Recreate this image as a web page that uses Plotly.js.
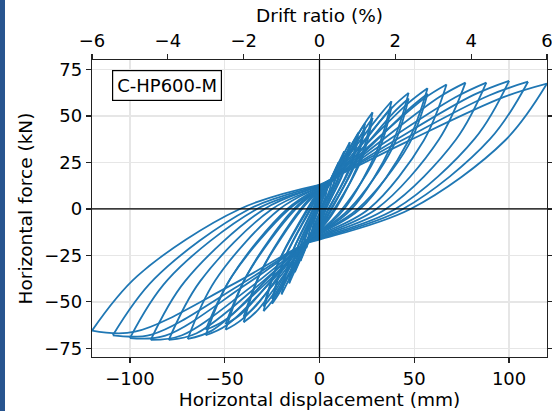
<!DOCTYPE html>
<html>
<head>
<meta charset="utf-8">
<script src="https://cdn.plot.ly/plotly-3.0.1.min.js"></script>
<style>
  html, body { margin: 0; padding: 0; background: #fff; }
  #wrap { position: relative; width: 552px; height: 411px; }
  #strip { position: absolute; left: 0; top: 0; width: 5px; height: 411px; background: #28558f; z-index: 5; }
  #chart { position: absolute; left: 0; top: 0; width: 552px; height: 411px; }
</style>
</head>
<body>
<div id="wrap"><div id="chart"></div><div id="strip"></div></div>
<script>
// ---- data (displacement mm, force kN) ----
// peaks of each cycle (repeated cycles at the smaller amplitudes)
const posD = [4, 7, 10, 10, 13, 13, 16, 16, 20.5, 20.5, 24, 24, 28, 28, 38, 38, 47, 47, 57, 57, 67, 77, 88, 100, 110, 120];
const posF = [11, 18, 25, 23.5, 31, 29, 36, 34, 41, 39, 46, 43.5, 52, 49, 58, 55, 62.5, 59.5, 65, 62, 67, 68, 68, 69, 68.5, 67.5];
const negD = [-4, -7, -10, -10, -13, -13, -16, -16, -20, -20, -25, -25, -29.5, -29.5, -40, -40, -49.5, -49.5, -60, -60, -69.5, -79.5, -89, -100, -109, -120];
const negF = [-12, -21, -28, -26.5, -34, -32, -40, -38, -46, -43.5, -51, -48.5, -55, -52.5, -61, -58, -65, -62, -68, -65, -70, -70.5, -70.5, -69.5, -68, -65.5];

// unloading from a negative peak (moving toward positive displacement)
const negUnloadMidD = [-2.9, -5.1, -7.4, -7.2, -9.6, -9.4, -12, -11.7, -15, -14.6, -19, -18.5, -22.6, -22, -31, -30.2, -38.5, -37.6, -47, -46, -55, -63, -71, -80, -87, -96];
const negUnloadMidF = [-7, -11.5, -15.5, -14.5, -19, -18, -22, -21, -25, -24, -28, -27, -31, -29.5, -34, -32.5, -36, -34.5, -37.5, -36, -38.5, -39, -39, -38, -37.5, -36];
const negZeroD = [-0.4, -0.8, -1.2, -1.1, -1.8, -1.6, -2.5, -2.3, -3.5, -3.2, -5, -4.6, -6.5, -6, -10, -9.2, -13.5, -12.5, -17, -16, -21, -25, -29, -33, -37, -42];
const posIntercept = [2, 4, 5.5, 5, 7, 6.5, 8, 7.5, 9, 8.5, 9.5, 9, 10, 9.5, 10.5, 10, 11, 10.5, 11.5, 11, 12, 12, 12.5, 12.5, 13, 13];
// reloading toward a positive peak
const posPinchD = [1.5, 2.5, 3, 3, 3.5, 3.5, 4, 4, 4.5, 4.5, 5, 5, 5, 5, 5.5, 5.5, 5.5, 5.5, 6, 6, 6, 6, 6.5, 6.5, 7, 7];
const posPinchF = [5, 7.5, 9.5, 9, 11, 10.5, 12, 11.5, 13, 12.5, 13.5, 13, 14, 13.5, 14.5, 14, 15, 14.5, 15, 14.5, 15.5, 15.5, 16, 16, 16.5, 16.5];
const posKneeD = [2.4, 4.1, 5.5, 5.7, 6.8, 7.1, 8.2, 8.6, 10.1, 10.6, 11.7, 12.3, 13, 13.7, 16.9, 17.8, 20, 21, 23.9, 25, 27.4, 30.9, 35, 39.2, 43, 46.5];
const posKneeF = [7.1, 11.2, 14.9, 14, 18, 16.8, 20.4, 19.2, 22.8, 21.6, 24.9, 23.6, 27.8, 26, 30.7, 28.8, 32.6, 30.6, 34, 32, 35, 35.4, 36.2, 36.6, 36.7, 36.4];
const posMidD = [3.5, 6.1, 8.6, 8.7, 11.1, 11.2, 13.6, 13.8, 17.3, 17.5, 20.2, 20.5, 23.4, 23.7, 32, 32.4, 38.7, 39.2, 46.8, 47.4, 54.8, 62.8, 71.7, 81.3, 89.4, 97.4];
const posMidF = [9.8, 15.9, 21.9, 20.4, 27, 25, 31.2, 29.2, 35.4, 33.6, 40, 37.6, 45.4, 42.6, 50.8, 47.8, 55, 52, 57, 54, 59.2, 60, 60.1, 61.4, 61.1, 60.3];

// unloading from a positive peak (moving toward negative displacement)
const posUnloadMidD = [2.95, 5.2, 7.4, 7.5, 9.85, 9.9, 12.2, 12.3, 15.9, 16, 18.7, 18.8, 22.1, 22.3, 30.5, 30.8, 38, 38.4, 46.4, 46.8, 55, 63, 72, 82, 90, 98];
const posUnloadMidF = [6, 9.9, 13.75, 13, 17, 16, 19.8, 18.7, 22.5, 21.5, 25.3, 24, 28.6, 27, 31.9, 30.2, 34.4, 32.7, 35.8, 34.1, 36.9, 37.4, 37.4, 38, 37.7, 37];
const posZeroD = [0.5, 1, 1.5, 1.4, 2.5, 2.3, 3.5, 3.2, 5, 4.6, 6.5, 6, 8.5, 7.8, 13, 12, 17, 15.8, 21.5, 20.2, 26, 30, 35, 40, 44, 48];
const negIntercept = [-2, -4, -6, -5.5, -7.5, -7, -9, -8.5, -10, -9.5, -11, -10.5, -11.5, -11, -12.5, -12, -13, -12.5, -13.5, -13, -14, -14.5, -15, -15.5, -16, -16.5];
// reloading toward a negative peak
const negPinchD = [-1.5, -2.5, -3, -3, -3.5, -3.5, -4, -4, -4.5, -4.5, -5, -5, -5, -5, -5.5, -5.5, -5.5, -5.5, -6, -6, -6, -6, -6.5, -6.5, -7, -7];
const negPinchF = [-5.5, -8.5, -10.5, -10, -12, -11.5, -13, -12.5, -14, -13.5, -15, -14.5, -15.5, -15, -16, -15.5, -16.5, -16, -17, -16.5, -17.5, -17.5, -18, -18, -18.5, -18.5];
const negKneeD = [-2.4, -4.1, -5.5, -5.7, -6.8, -7.1, -8.2, -8.6, -9.9, -10.4, -12, -12.6, -13.6, -14.3, -17.6, -18.5, -20.9, -22, -24.9, -26, -28.2, -31.7, -35.4, -39.2, -42.7, -46.5];
const negKneeF = [-7.8, -12.9, -16.6, -15.6, -19.7, -18.5, -22.5, -21.2, -25.2, -23.8, -27.6, -26, -30.3, -28.6, -33.8, -31.8, -36.5, -34.4, -38.4, -36.2, -39.9, -40.6, -41.4, -41, -41.3, -41];
const negMidD = [-3.5, -6.1, -8.6, -8.7, -11.1, -11.2, -13.6, -13.8, -16.9, -17.1, -21, -21.3, -24.6, -24.9, -33.1, -33.5, -40.7, -41.2, -49.2, -49.8, -56.8, -64.8, -72.5, -81.3, -88.6, -97.4];
const negMidF = [-10.7, -18.5, -24.5, -23, -29.6, -27.8, -34.6, -32.7, -39.6, -37.3, -44.8, -42.4, -49.1, -46.6, -55, -52.2, -59.3, -56.4, -62.8, -59.8, -65.5, -66.9, -68, -68.2, -67.6, -66.1];

const xTicks = [-100, -50, 0, 50, 100];
const yTicks = [-75, -50, -25, 0, 25, 50, 75];
const driftTicks = [-6, -4, -2, 0, 2, 4, 6];
const driftRange = [-6, 6];
const specimen = 'C-HP600-M';

// ---- build the path (branches separated by gaps so peaks stay sharp) ----
const xs = [], ys = [];
function seg(pts) {
  pts.forEach(p => { xs.push(p[0]); ys.push(p[1]); });
  xs.push(null); ys.push(null);
}
const N = posD.length;
seg([[0, 0], [posKneeD[0], posKneeF[0]], [posMidD[0], posMidF[0]], [posD[0], posF[0]]]);
for (let i = 0; i < N; i++) {
  seg([[posD[i], posF[i]], [posUnloadMidD[i], posUnloadMidF[i]], [posZeroD[i], 0], [0, negIntercept[i]],
       [negPinchD[i], negPinchF[i]], [negKneeD[i], negKneeF[i]], [negMidD[i], negMidF[i]], [negD[i], negF[i]]]);
  if (i + 1 < N) {
    seg([[negD[i], negF[i]], [negUnloadMidD[i], negUnloadMidF[i]], [negZeroD[i], 0], [0, posIntercept[i]],
         [posPinchD[i + 1], posPinchF[i + 1]], [posKneeD[i + 1], posKneeF[i + 1]], [posMidD[i + 1], posMidF[i + 1]], [posD[i + 1], posF[i + 1]]]);
  } else {
    seg([[negD[i], negF[i]], [negUnloadMidD[i], negUnloadMidF[i]], [negZeroD[i], 0], [0, posIntercept[i]]]);
  }
}

const font = {family: 'DejaVu Sans, sans-serif', size: 18, color: '#000'};
const titleFont = {family: 'DejaVu Sans, sans-serif', size: 18.5, color: '#000'};
const data = [
  {
    x: xs, y: ys, type: 'scatter', mode: 'lines', connectgaps: false,
    line: {color: '#1f77b4', width: 1.8, shape: 'spline', smoothing: 1},
    hoverinfo: 'skip'
  },
  { // carrier for the top drift-ratio axis (no visible mark)
    x: driftRange, y: [null, null], xaxis: 'x2', yaxis: 'y', type: 'scatter', mode: 'lines',
    line: {width: 0}, hoverinfo: 'skip', showlegend: false
  }
];

const layout = {
  width: 552, height: 411,
  margin: {l: 92, r: 5, t: 60, b: 54, pad: 0},
  paper_bgcolor: '#fff', plot_bgcolor: '#fff',
  font: font, showlegend: false,
  xaxis: {
    range: [-120, 120], tickvals: xTicks, ticks: 'outside', ticklen: 5, tickwidth: 1.2, tickcolor: '#222',
    showline: true, linecolor: '#222', linewidth: 1.2, mirror: true,
    showgrid: true, gridcolor: '#e6e6e6', gridwidth: 1.5, zeroline: false,
    tickfont: font,
    title: {text: 'Horizontal displacement (mm)', font: titleFont, standoff: 2}
  },
  xaxis2: {
    overlaying: 'x', side: 'top', anchor: 'y', range: driftRange, tickvals: driftTicks,
    ticks: 'outside', ticklen: 5, tickwidth: 1.2, tickcolor: '#222', ticklabeloverflow: 'allow',
    showgrid: false, zeroline: false, showline: false, tickfont: font,
    title: {text: 'Drift ratio (%)', font: titleFont, standoff: 2}
  },
  yaxis: {
    range: [-79.7, 80.2], tickvals: yTicks, ticks: 'outside', ticklen: 5, tickwidth: 1.2, tickcolor: '#222',
    showline: true, linecolor: '#222', linewidth: 1.2, mirror: 'ticks',
    showgrid: true, gridcolor: '#e6e6e6', gridwidth: 1.5, zeroline: false,
    tickfont: font,
    title: {text: 'Horizontal force (kN)', font: titleFont, standoff: 6}
  },
  shapes: [
    {type: 'line', xref: 'x', yref: 'paper', x0: 0, x1: 0, y0: 0, y1: 1, line: {color: '#000', width: 1.3}, layer: 'above'},
    {type: 'line', xref: 'paper', yref: 'y', x0: 0, x1: 1, y0: 0, y1: 0, line: {color: '#000', width: 1.3}, layer: 'above'}
  ],
  annotations: [{
    text: specimen, xref: 'paper', yref: 'paper', x: 0.164, y: 0.915, xanchor: 'center', yanchor: 'middle',
    showarrow: false, font: font, bgcolor: '#fff', bordercolor: '#000', borderwidth: 1.2, borderpad: 4
  }]
};

Plotly.newPlot('chart', data, layout, {displayModeBar: false, staticPlot: true});
</script>
</body>
</html>
